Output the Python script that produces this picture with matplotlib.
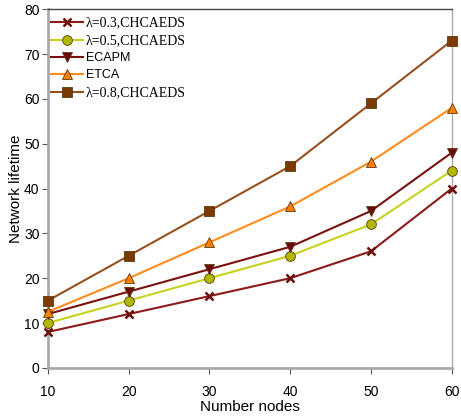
import matplotlib
matplotlib.use("Agg")
import matplotlib.pyplot as plt

nodes = [10, 20, 30, 40, 50, 60]
lam03 = [8, 12, 16, 20, 26, 40]
lam05 = [10, 15, 20, 25, 32, 44]
ecapm = [12, 17, 22, 27, 35, 48]
etca = [12.5, 20, 28, 36, 46, 58]
lam08 = [15, 25, 35, 45, 59, 73]

series = [
    ("λ=0.3,CHCAEDS", lam03, "#8b1a1a", "x", "#6e0f0f", "serif"),
    ("λ=0.5,CHCAEDS", lam05, "#c8d21e", "o", "#b0b800", "serif"),
    ("ECAPM", ecapm, "#7a1010", "v", "#6a0a0a", "sans"),
    ("ETCA", etca, "#ff8c1a", "^", "#ff7f00", "sans"),
    ("λ=0.8,CHCAEDS", lam08, "#96501e", "s", "#7b3a00", "serif"),
]

plt.rcParams["font.family"] = ["Liberation Sans", "DejaVu Sans"]

fig = plt.figure(figsize=(4.61, 4.18), dpi=100)
ax = fig.add_axes([0.104, 0.120, 0.876, 0.858])

for label, ys, lc, mk, mc, _ in series:
    ax.plot(nodes, ys, color=lc, linewidth=1.5, marker=mk, markersize=7 if mk != "x" else 6,
            markerfacecolor=mc, markeredgecolor="#5a3a10" if mk != "x" else mc,
            markeredgewidth=0.6 if mk != "x" else 1.8, label=label, clip_on=False, zorder=3)

ax.set_xlim(10, 60)
ax.set_ylim(0, 80)
ax.set_xticks(nodes)
ax.set_yticks(range(0, 81, 10))
ax.tick_params(labelsize=10, length=4, width=0.8, color="#555555", pad=2)
ax.tick_params(axis="x", pad=8)

for side in ("left", "bottom"):
    ax.spines[side].set_color("#aaaaaa")
    ax.spines[side].set_linewidth(2)
ax.spines["right"].set_color("#aaaaaa")
ax.spines["right"].set_linewidth(1)
ax.spines["top"].set_color("#444444")
ax.spines["top"].set_linewidth(1)

ax.set_xlabel("Number nodes", fontsize=11, labelpad=1)
ax.set_ylabel("Network lifetime", fontsize=11, labelpad=1)

leg = ax.legend(loc="upper left", frameon=False, fontsize=9, handlelength=2.6,
                handletextpad=0.2, labelspacing=0.4, borderaxespad=0.0,
                bbox_to_anchor=(-0.005, 0.995))
for txt, s in zip(leg.get_texts(), series):
    if s[5] == "serif":
        txt.set_family(["Liberation Serif", "DejaVu Serif"])
        txt.set_fontsize(10)

fig.savefig("out.png", dpi=100)
